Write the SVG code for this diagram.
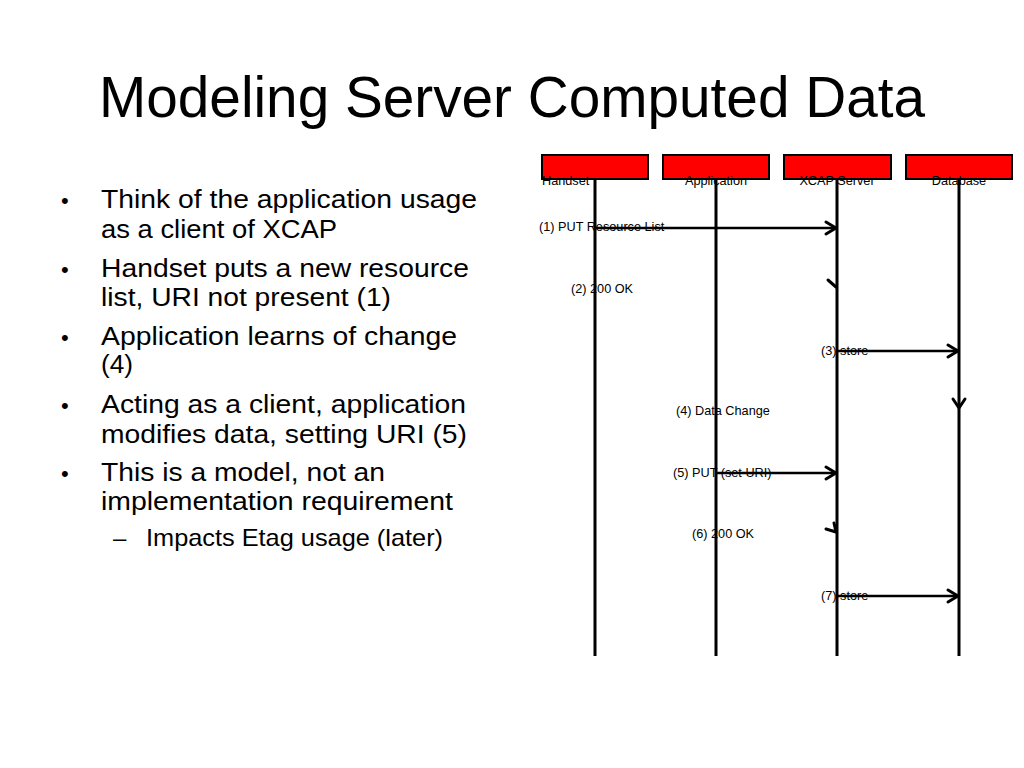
<svg xmlns="http://www.w3.org/2000/svg" width="1024" height="768" viewBox="0 0 1024 768">
<defs>
<style>
text{font-family:"Liberation Sans",Arial,sans-serif;fill:#000}
.title{font-size:57px}
.b{font-size:26px}
.s{font-size:12.7px}
.actor{fill:#ff0000;stroke:#000;stroke-width:2}
.life{stroke:#000;stroke-width:3;fill:none}
.msg{stroke:#000;stroke-width:2.5;fill:none}
.head{stroke:#000;stroke-width:3;fill:none;stroke-linecap:round;stroke-linejoin:round}
</style>
</defs>
<rect width="1024" height="768" fill="#fff"/>
<text class="title" x="99" y="117" textLength="826" lengthAdjust="spacingAndGlyphs">Modeling Server Computed Data</text>
<g id="bullets" class="b">
<text x="61" y="208" font-size="22">•</text>
<text x="101" y="208" textLength="376" lengthAdjust="spacingAndGlyphs">Think of the application usage</text>
<text x="101" y="238" textLength="236" lengthAdjust="spacingAndGlyphs">as a client of XCAP</text>
<text x="61" y="277" font-size="22">•</text>
<text x="101" y="277" textLength="368" lengthAdjust="spacingAndGlyphs">Handset puts a new resource</text>
<text x="101" y="306" textLength="290" lengthAdjust="spacingAndGlyphs">list, URI not present (1)</text>
<text x="61" y="345" font-size="22">•</text>
<text x="101" y="345" textLength="356" lengthAdjust="spacingAndGlyphs">Application learns of change</text>
<text x="101" y="373" textLength="32" lengthAdjust="spacingAndGlyphs">(4)</text>
<text x="61" y="413" font-size="22">•</text>
<text x="101" y="413" textLength="365" lengthAdjust="spacingAndGlyphs">Acting as a client, application</text>
<text x="101" y="443" textLength="366" lengthAdjust="spacingAndGlyphs">modifies data, setting URI (5)</text>
<text x="61" y="481" font-size="22">•</text>
<text x="101" y="481" textLength="284" lengthAdjust="spacingAndGlyphs">This is a model, not an</text>
<text x="101" y="510" textLength="352" lengthAdjust="spacingAndGlyphs">implementation requirement</text>
<text x="113" y="546" font-size="24">–</text>
<text x="146" y="546" font-size="24" textLength="297" lengthAdjust="spacingAndGlyphs">Impacts Etag usage (later)</text>
</g>
<g id="handset">
<rect class="actor" x="542" y="155" width="106" height="24"/>
<line class="life" x1="595" y1="179" x2="595" y2="656"/>
<text class="s" x="542" y="185">Handset</text>
</g>
<g id="application">
<rect class="actor" x="663" y="155" width="106" height="24"/>
<line class="life" x1="716" y1="179" x2="716" y2="656"/>
<text class="s" x="716" y="185" text-anchor="middle">Application</text>
</g>
<g id="xcap-server">
<rect class="actor" x="784" y="155" width="107" height="24"/>
<line class="life" x1="837" y1="179" x2="837" y2="656"/>
<text class="s" x="837" y="185" text-anchor="middle">XCAP Server</text>
</g>
<g id="database">
<rect class="actor" x="906" y="155" width="106" height="24"/>
<line class="life" x1="959" y1="179" x2="959" y2="656"/>
<text class="s" x="959" y="185" text-anchor="middle">Database</text>
</g>
<g id="connectors">
<line class="msg" x1="595" y1="228" x2="836" y2="228"/>
<path class="head" d="M826,222 L836,228 L826,234"/>
<text class="s" x="539" y="231">(1) PUT Resource List</text>
<path class="head" d="M828,280 L836,287"/>
<text class="s" x="571" y="293">(2) 200 OK</text>
<line class="msg" x1="837" y1="351" x2="958" y2="351"/>
<path class="head" d="M948,345 L958,351 L948,357"/>
<text class="s" x="821" y="355">(3) store</text>
<path class="head" d="M953,399 L959,408 L965,399"/>
<text class="s" x="676" y="415">(4) Data Change</text>
<line class="msg" x1="716" y1="473" x2="836" y2="473"/>
<path class="head" d="M826,467 L836,473 L826,479"/>
<text class="s" x="673" y="477">(5) PUT (set URI)</text>
<path class="head" d="M826,529 L836,532 L834,523"/>
<text class="s" x="692" y="538">(6) 200 OK</text>
<line class="msg" x1="837" y1="596" x2="958" y2="596"/>
<path class="head" d="M948,590 L958,596 L948,602"/>
<text class="s" x="821" y="600">(7) store</text>
</g>
</svg>
